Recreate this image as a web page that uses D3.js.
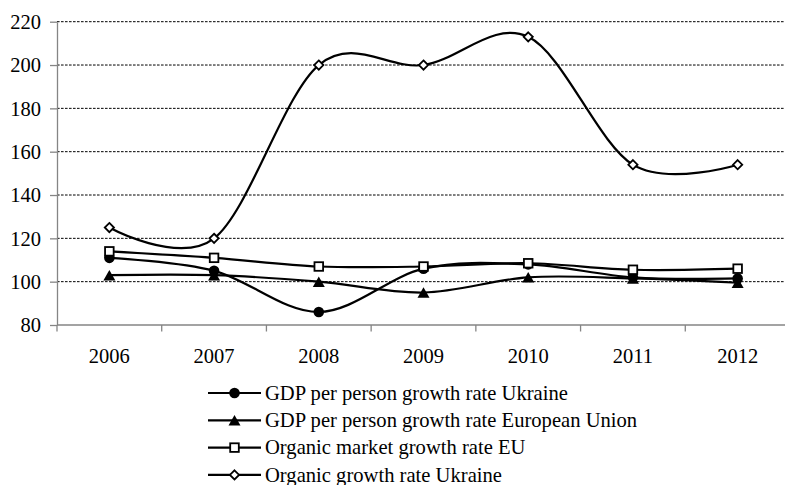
<!DOCTYPE html>
<html>
<head>
<meta charset="utf-8">
<script src="https://cdn.jsdelivr.net/npm/d3@7"></script>
<style>
  body { margin: 0; background: #fff; }
  svg text { font-family: "Liberation Serif", "Times New Roman", Tinos, serif; fill: #000; }
</style>
</head>
<body>
<svg id="chart" width="785" height="485"></svg>
<script>
// Growth indices, previous year = 100
const years = ["2006", "2007", "2008", "2009", "2010", "2011", "2012"];
const gdpUkraine = [111, 105, 86, 106, 108, 102, 101.5];
const gdpEU = [103, 103, 100, 95, 102, 101.5, 99.5];
const organicEU = [114, 111, 107, 107, 108.5, 105.5, 106];
const organicUkraine = [125, 120, 200, 200, 213, 154, 154];
const yTicks = [80, 100, 120, 140, 160, 180, 200, 220];

const seriesNames = [
  "GDP per person growth rate Ukraine",
  "GDP per person growth rate European Union",
  "Organic market growth rate EU",
  "Organic growth rate Ukraine"
];
const seriesValues = [gdpUkraine, gdpEU, organicEU, organicUkraine];
const seriesMarkers = ["circle", "triangle", "square", "diamond"];

const serif = '"Liberation Serif", "Times New Roman", Tinos, serif';
const svg = d3.select("#chart");
const plotLeft = 57, plotRight = 790, plotTop = 21.7, plotBottom = 325;

const x = d3.scaleBand().domain(years).range([plotLeft, plotRight]);
const y = d3.scaleLinear().domain([80, 220]).range([plotBottom, plotTop]);
const cx = d => x(d) + x.bandwidth() / 2;
const axisColor = "#858585";

// dashed horizontal gridlines
svg.append("g")
  .selectAll("line")
  .data(yTicks.filter(t => t > 80))
  .join("line")
  .attr("x1", plotLeft).attr("x2", plotRight)
  .attr("y1", d => y(d)).attr("y2", d => y(d))
  .attr("stroke", "#000")
  .attr("stroke-width", 1)
  .attr("stroke-dasharray", "2.6,1.4");

// y axis
const yAxis = svg.append("g")
  .attr("transform", `translate(${plotLeft},0)`)
  .call(d3.axisLeft(y).tickValues(yTicks).tickSize(7).tickPadding(9).tickSizeOuter(0))
  .attr("font-family", serif)
  .attr("font-size", 20.5);
yAxis.select(".domain").attr("stroke", axisColor).attr("stroke-width", 1.3);
yAxis.selectAll(".tick line").attr("stroke", axisColor).attr("stroke-width", 1.3);
yAxis.selectAll(".tick text").attr("dy", "0.33em");

// x axis with ticks on category boundaries
const xAxis = svg.append("g");
xAxis.append("line")
  .attr("x1", plotLeft).attr("x2", plotRight)
  .attr("y1", plotBottom).attr("y2", plotBottom)
  .attr("stroke", axisColor).attr("stroke-width", 1.3);
xAxis.selectAll(".bound")
  .data(years)
  .join("line")
  .attr("class", "bound")
  .attr("x1", d => x(d)).attr("x2", d => x(d))
  .attr("y1", plotBottom).attr("y2", plotBottom + 6.5)
  .attr("stroke", axisColor).attr("stroke-width", 1.3);
xAxis.selectAll("text")
  .data(years)
  .join("text")
  .attr("x", cx)
  .attr("y", plotBottom + 38)
  .attr("text-anchor", "middle")
  .attr("font-size", 20.5)
  .text(d => d);

// marker shapes
function drawMarker(g, type, px, py) {
  if (type === "circle") {
    g.append("circle").attr("cx", px).attr("cy", py).attr("r", 5.3).attr("fill", "#000");
  } else if (type === "triangle") {
    const h = 10.5, w = 12;
    g.append("path")
      .attr("d", `M${px},${py - h / 2}L${px + w / 2},${py + h / 2}L${px - w / 2},${py + h / 2}Z`)
      .attr("fill", "#000");
  } else if (type === "square") {
    g.append("rect").attr("x", px - 4.3).attr("y", py - 4.3)
      .attr("width", 8.6).attr("height", 8.6)
      .attr("fill", "#fff").attr("stroke", "#000").attr("stroke-width", 1.8);
  } else {
    const r = 4.6;
    g.append("path")
      .attr("d", `M${px},${py - r}L${px + r},${py}L${px},${py + r}L${px - r},${py}Z`)
      .attr("fill", "#fff").attr("stroke", "#000").attr("stroke-width", 1.8);
  }
}

// smoothed series lines with markers
const line = d3.line()
  .x((d, i) => cx(years[i]))
  .y(d => y(d))
  .curve(d3.curveCardinal.tension(0));

seriesValues.forEach((vals, k) => {
  const g = svg.append("g");
  g.append("path")
    .attr("d", line(vals))
    .attr("fill", "none")
    .attr("stroke", "#000")
    .attr("stroke-width", 2.2);
  vals.forEach((v, i) => drawMarker(g, seriesMarkers[k], cx(years[i]), y(v)));
});

// legend
const legend = svg.append("g");
seriesNames.forEach((name, k) => {
  const ly = 393 + k * 27.3;
  legend.append("line")
    .attr("x1", 208).attr("x2", 261)
    .attr("y1", ly).attr("y2", ly)
    .attr("stroke", "#000").attr("stroke-width", 2.2);
  drawMarker(legend, seriesMarkers[k], 234.5, ly);
  legend.append("text")
    .attr("x", 265)
    .attr("y", ly)
    .attr("dy", "0.33em")
    .attr("font-size", 20.6)
    .text(name);
});
</script>
</body>
</html>
